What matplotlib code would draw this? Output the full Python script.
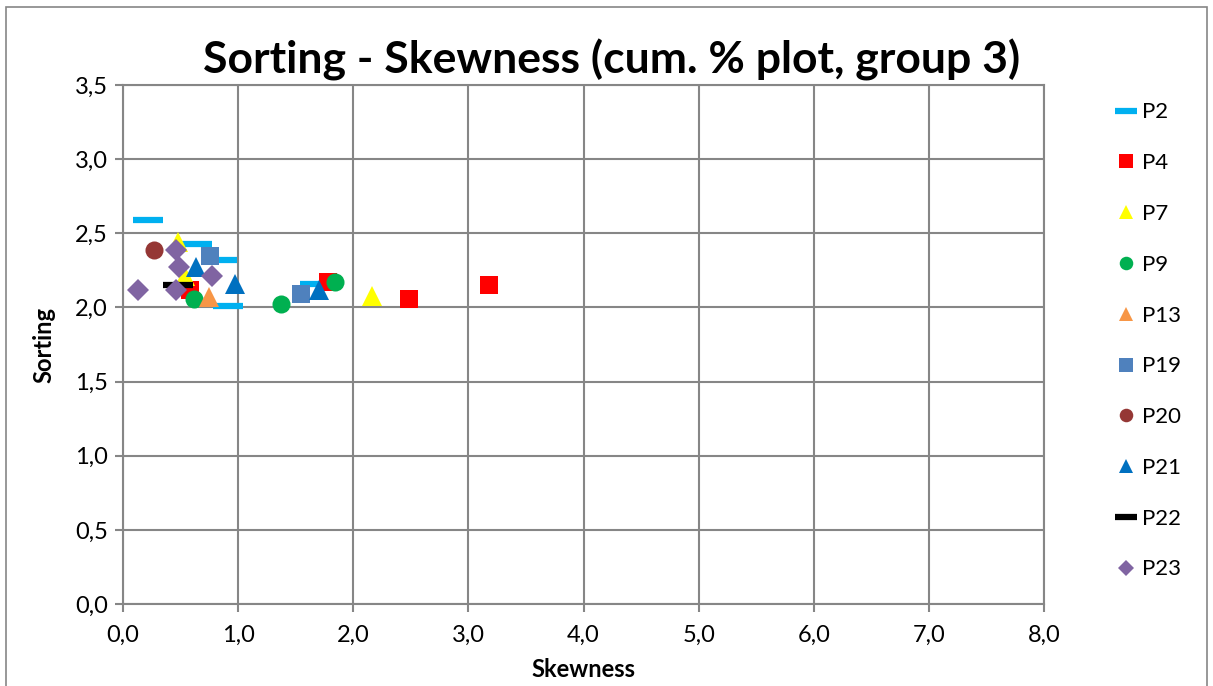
import matplotlib.pyplot as plt
from matplotlib.patches import Rectangle

plt.rcParams['font.family'] = ['Lato', 'DejaVu Sans']

# Data (skewness, sorting) per sample group
p2_x = [0.22, 0.64, 0.86, 0.91, 1.67]
p2_y = [2.59, 2.43, 2.32, 2.01, 2.16]
p4_x = [0.58, 1.78, 2.48, 3.18]
p4_y = [2.12, 2.17, 2.06, 2.15]
p7_x = [0.48, 0.54, 2.16]
p7_y = [2.44, 2.21, 2.08]
p9_x = [0.62, 1.37, 1.84]
p9_y = [2.06, 2.02, 2.17]
p13_x = [0.75]
p13_y = [2.07]
p19_x = [0.76, 1.55]
p19_y = [2.35, 2.09]
p20_x = [0.27]
p20_y = [2.39]
p21_x = [0.63, 0.97, 1.70]
p21_y = [2.27, 2.16, 2.12]
p22_x = [0.48]
p22_y = [2.15]
p23_x = [0.13, 0.46, 0.49, 0.77, 0.46]
p23_y = [2.12, 2.39, 2.27, 2.21, 2.12]

series = [
    ("P2", p2_x, p2_y, "_", "#00B0F0", 21),
    ("P4", p4_x, p4_y, "s", "#FF0000", 13),
    ("P7", p7_x, p7_y, "^", "#FFFF00", 14),
    ("P9", p9_x, p9_y, "o", "#00B050", 13),
    ("P13", p13_x, p13_y, "^", "#F79646", 14),
    ("P19", p19_x, p19_y, "s", "#4F81BD", 13),
    ("P20", p20_x, p20_y, "o", "#953735", 13),
    ("P21", p21_x, p21_y, "^", "#0070C0", 14),
    ("P22", p22_x, p22_y, "_", "#000000", 21),
    ("P23", p23_x, p23_y, "D", "#8064A2", 11),
]

fig = plt.figure(figsize=(12.13, 6.86), dpi=100)
ax = fig.add_axes([0.1014, 0.1195, 0.7593, 0.7566])

for name, xs, ys, m, c, ms in series:
    if m == "_":
        ax.plot(xs, ys, linestyle="none", marker=m, color=c, markersize=ms,
                markeredgewidth=4.5, label=name)
    else:
        ax.plot(xs, ys, linestyle="none", marker=m, color=c, markersize=ms,
                markeredgewidth=0, label=name)

ax.set_xlim(0, 8)
ax.set_ylim(0, 3.5)
ax.set_xticks([i for i in range(9)])
ax.set_yticks([i * 0.5 for i in range(8)])
ax.set_xticklabels([f"{i},0" for i in range(9)], fontsize=17)
ax.set_yticklabels([f"{i * 0.5:.1f}".replace(".", ",") for i in range(8)], fontsize=17)
ax.grid(True, color="#868686", linewidth=1.5)
ax.set_axisbelow(True)
for s in ax.spines.values():
    s.set_color("#868686")
    s.set_linewidth(1.5)
ax.tick_params(color="#868686", width=1.5, length=6)
ax.tick_params(axis="x", pad=9)
ax.tick_params(axis="y", pad=5)

ax.set_xlabel("Skewness", fontsize=17, fontweight="bold", labelpad=9)
ax.set_ylabel("Sorting", fontsize=17, fontweight="bold", labelpad=14)
fig.text(0.504, 0.912, "Sorting - Skewness (cum. % plot, group 3)",
         fontsize=32, fontweight="bold", ha="center", va="center")

ax.legend(loc="upper left", bbox_to_anchor=(1.055, 1.005), frameon=False,
          fontsize=16, labelspacing=1.385, handlelength=1.0, handletextpad=0.25,
          markerscale=0.75)

fig.patches.append(Rectangle((0.005, -0.01), 0.99, 1.0, transform=fig.transFigure,
                             fill=False, edgecolor="#868686", linewidth=1.2))

fig.savefig("out.png", dpi=100)
